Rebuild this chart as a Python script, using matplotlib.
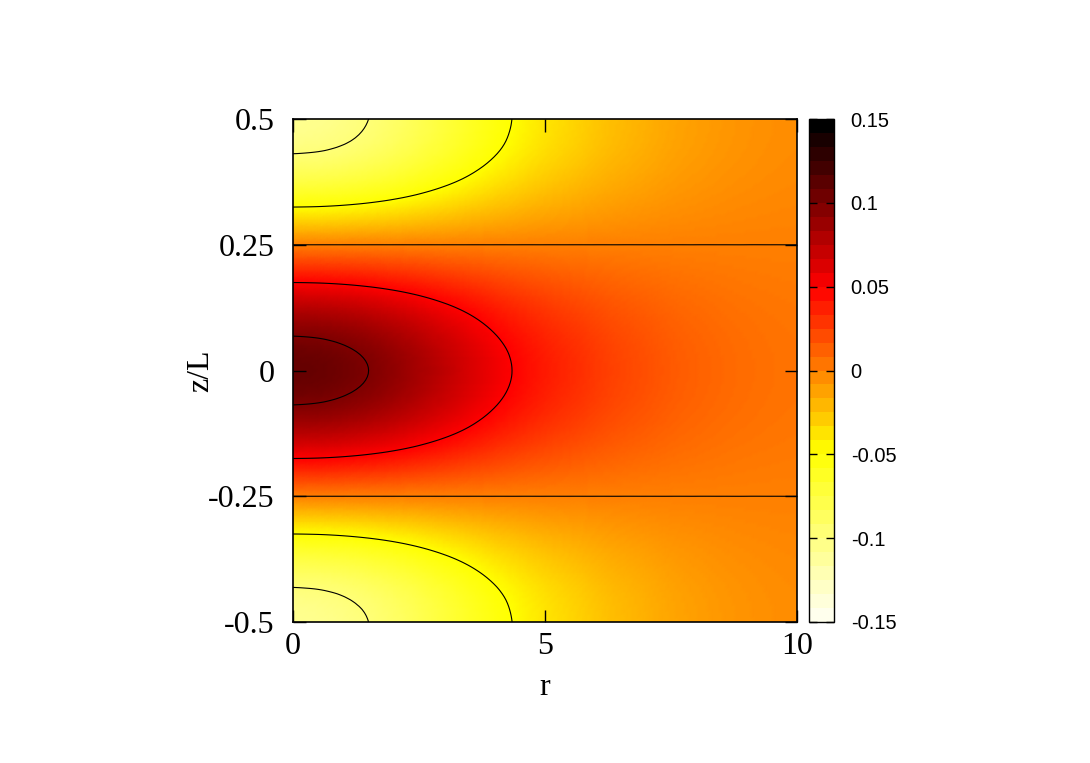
import numpy as np
import matplotlib
matplotlib.use("Agg")
import matplotlib.pyplot as plt
import matplotlib.tri as mtri
from matplotlib.colors import LinearSegmentedColormap, BoundaryNorm
from matplotlib.cm import ScalarMappable

# ---- data ----
r_nodes = [0.0, 0.5, 1.0, 1.5, 2.0, 2.5, 3.0, 3.5, 4.0, 4.5, 5.0,
           5.5, 6.0, 6.5, 7.0, 7.5, 8.0, 8.5, 9.0, 9.5, 10.0]
# amplitude of the field on the mid-plane z/L = 0
amp_r = [0.110, 0.1088, 0.1054, 0.1000, 0.0929, 0.0844, 0.0751, 0.0655,
         0.0559, 0.0475, 0.0400, 0.0340, 0.0280, 0.0230, 0.0190, 0.0150,
         0.0120, 0.0095, 0.0075, 0.0060, 0.0050]
z_nodes = [-0.5, -0.45, -0.4, -0.35, -0.3, -0.25, -0.2, -0.15, -0.1, -0.05, 0.0,
           0.05, 0.1, 0.15, 0.2, 0.25, 0.3, 0.35, 0.4, 0.45, 0.5]
# relative axial profile (1 at z/L=0)
prof_z = [-1.0, -0.951, -0.809, -0.588, -0.309, 0.0, 0.309, 0.588, 0.809, 0.951, 1.0,
          0.951, 0.809, 0.588, 0.309, 0.0, -0.309, -0.588, -0.809, -0.951, -1.0]
contour_levels = [-0.1, -0.05, 0.0, 0.05, 0.1]
cbar_ticks = [-0.15, -0.1, -0.05, 0.0, 0.05, 0.1, 0.15]
cbar_labels = ["-0.15", "-0.1", "-0.05", "0", "0.05", "0.1", "0.15"]
x_ticks = [0, 5, 10]
x_labels = ["0", "5", "10"]
y_ticks = [-0.5, -0.25, 0.0, 0.25, 0.5]
y_labels = ["-0.5", "-0.25", "0", "0.25", "0.5"]

plt.rcParams["font.family"] = ["Liberation Serif", "DejaVu Serif"]

r = np.asarray(r_nodes)
z = np.asarray(z_nodes)
V = np.outer(np.asarray(prof_z), np.asarray(amp_r))
R, Z = np.meshgrid(r, z)
nr, nz = len(r), len(z)
tris = []
for i in range(nz - 1):
    for j in range(nr - 1):
        k = i * nr + j
        tris.append([k, k + 1, k + nr + 1])
        tris.append([k, k + nr + 1, k + nr])
tris = np.array(tris)
zscale = 10.0
tri_s = mtri.Triangulation(R.ravel(), Z.ravel() * zscale, tris)
refiner = mtri.UniformTriRefiner(tri_s)
tri_ref, V_ref = refiner.refine_field(V.ravel(), subdiv=3)
tri_plot = mtri.Triangulation(tri_ref.x, tri_ref.y / zscale, tri_ref.triangles)

cmap = LinearSegmentedColormap.from_list(
    "gp", [(0.0, (1.0, 1.0, 0.93)), (1/3, (1.0, 1.0, 0.0)),
           (2/3, (1.0, 0.0, 0.0)), (1.0, (0.0, 0.0, 0.0))])
bar_levels = np.linspace(-0.15, 0.15, 37)

fig = plt.figure(figsize=(10.9, 7.63), dpi=100)
ax = fig.add_axes([0.2688, 0.1848, 0.4624, 0.6592])
cax = fig.add_axes([0.7422, 0.1848, 0.0229, 0.6592])

ax.tripcolor(tri_plot, V_ref, shading="gouraud", cmap=cmap,
             vmin=-0.15, vmax=0.15, rasterized=True)
ax.tricontour(tri_plot, V_ref, levels=contour_levels, colors="black",
              linewidths=0.8, linestyles="solid")

ax.set_xlim(0, 10)
ax.set_ylim(-0.5, 0.5)
ax.set_xticks(x_ticks)
ax.set_xticklabels(x_labels)
ax.set_yticks(y_ticks)
ax.set_yticklabels(y_labels)
ax.tick_params(direction="in", top=True, right=True, length=9, width=1.0,
               labelsize=23)
ax.tick_params(axis="x", pad=7)
ax.tick_params(axis="y", pad=13)
for s in ax.spines.values():
    s.set_linewidth(1.2)
ax.set_xlabel("r", fontsize=23, labelpad=9)
ax.set_ylabel("z/L", fontsize=23)
ax.yaxis.set_label_coords(-0.155, 0.5)

sm = ScalarMappable(norm=BoundaryNorm(bar_levels, cmap.N), cmap=cmap)
cb = fig.colorbar(sm, cax=cax, ticks=cbar_ticks)
cb.ax.set_yticklabels(cbar_labels, fontfamily="Liberation Sans", fontsize=14.5)
cb.ax.tick_params(direction="in", left=True, right=True, length=6, width=1.0,
                  pad=12)
cb.ax.minorticks_off()
cb.outline.set_linewidth(1.0)

fig.savefig("out.png", dpi=100)
